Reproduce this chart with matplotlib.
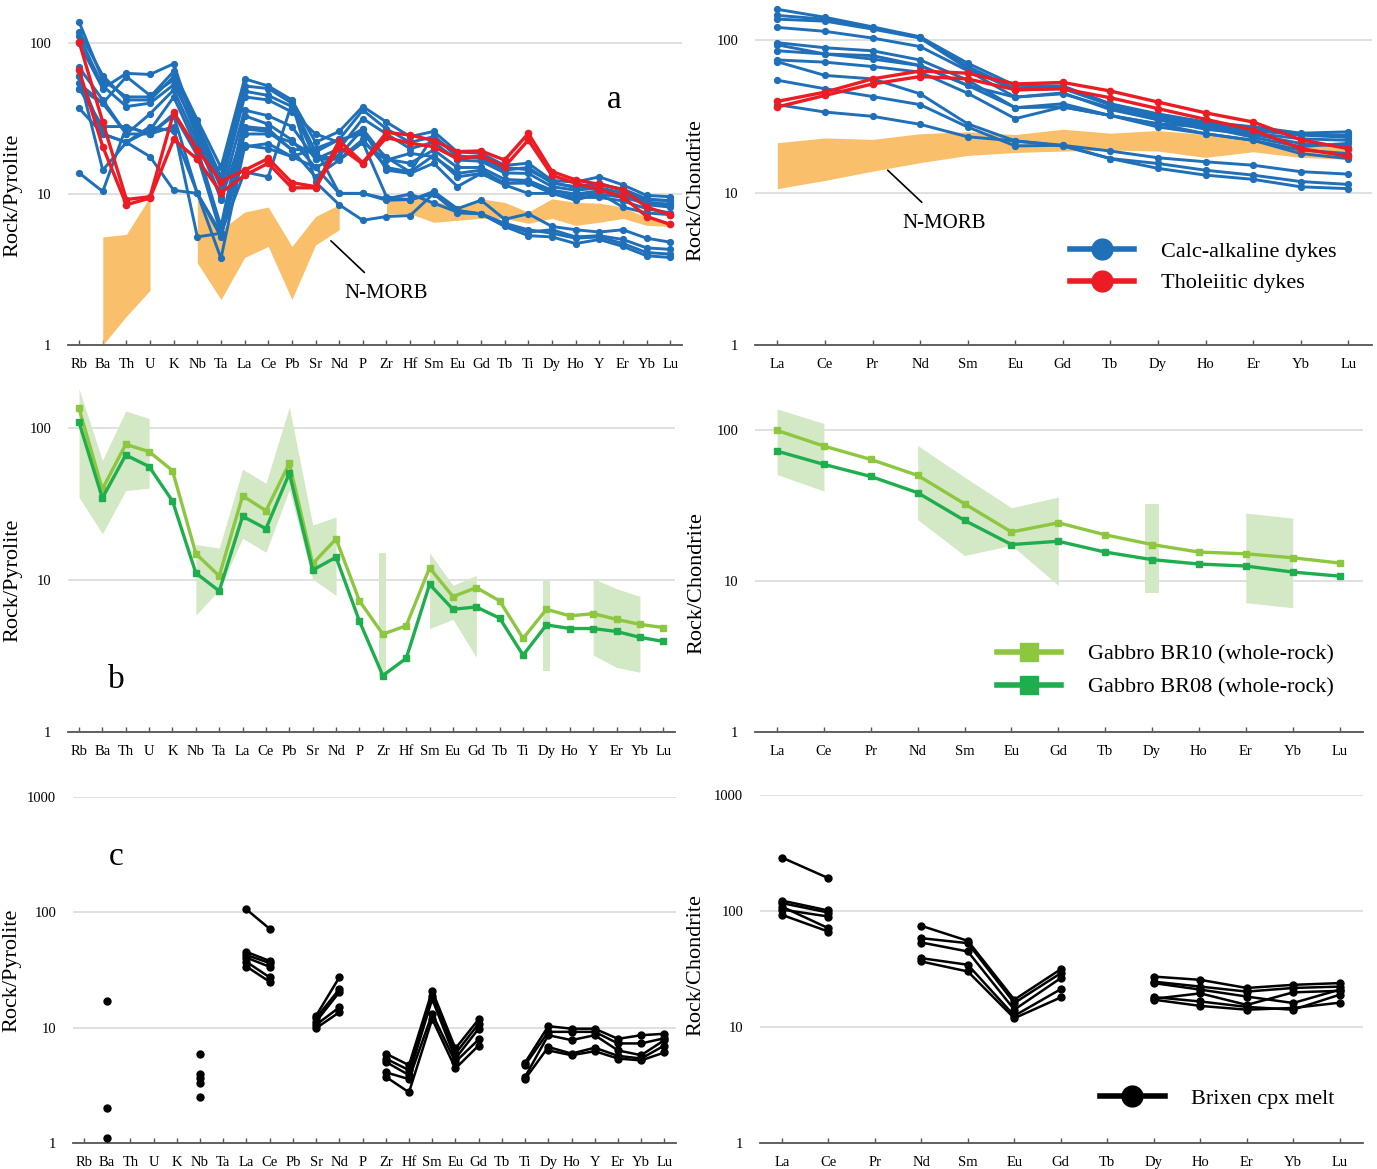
import numpy as np
import matplotlib
matplotlib.use("Agg")
import matplotlib.pyplot as plt
from matplotlib.lines import Line2D
from matplotlib.ticker import FixedLocator, FixedFormatter, NullLocator

plt.rcParams['font.family'] = ['Liberation Serif', 'DejaVu Serif']

spider_elements = ['Rb', 'Ba', 'Th', 'U', 'K', 'Nb', 'Ta', 'La', 'Ce', 'Pb', 'Sr', 'Nd', 'P',
                   'Zr', 'Hf', 'Sm', 'Eu', 'Gd', 'Tb', 'Ti', 'Dy', 'Ho', 'Y', 'Er', 'Yb', 'Lu']
ree_elements = ['La', 'Ce', 'Pr', 'Nd', 'Sm', 'Eu', 'Gd', 'Tb', 'Dy', 'Ho', 'Er', 'Yb', 'Lu']

# --- (a) dykes, normalised to pyrolite ---
calc_alkaline_spider = [
    [138, 57, 44, 44, 65, 31, 15, 58, 52, 42, 22, 26, 38, 30, 24, 26, 19, 18.6, 15.5, 16, 12.3, 12, 13, 11.5, 9.8, 9.6],
    [119, 61, 42, 42, 60, 29, 13, 52, 50, 40, 19, 23, 36, 27, 22, 24, 18, 17.2, 14.4, 15, 11.8, 11.2, 11.8, 10.6, 9.1, 9.1],
    [111, 52, 38, 40, 53, 27, 12, 48, 45, 38, 17, 20, 31.6, 25, 20, 22, 16.8, 16.5, 13.8, 13.7, 11.2, 10.6, 11, 10.2, 8.8, 8.5],
    [100, 50, 63, 62, 73, 25, 11, 44, 42, 35, 25, 22, 27, 17, 16, 19.6, 15, 15, 12.5, 12.3, 10.6, 10, 10.5, 9.8, 8.5, 8.2],
    [69, 42, 25, 34, 49, 22, 9.6, 36, 33, 28, 17, 17, 22, 16.8, 18.6, 17.7, 13.7, 14.4, 11.8, 11.8, 10.1, 9.1, 10.1, 8.2, 7.5, 7.3],
    [61, 25, 22, 26.5, 44, 20, 6.1, 33, 29, 22.8, 15, 18, 27, 14.4, 13.7, 16, 11.2, 13.7, 11.5, 10.1, 10.1, 9.5, 9.5, 9.0, 8.0, 7.5],
    [54, 40, 60, 45, 57, 24, 9.2, 27, 26, 19.6, 20, 23, 25, 17.5, 14, 24.5, 17.5, 17.8, 15, 14.5, 12, 11, 11.5, 10.8, 9.3, 9.0],
    [50, 28, 28, 25, 34, 18, 5.5, 28, 27, 19.6, 13, 16.8, 22, 9.6, 9.1, 10.4, 8.0, 9.1, 6.8, 7.4, 6.1, 5.8, 5.6, 5.8, 5.1, 4.8],
    [37, 25, 22, 28, 26, 10.1, 5.5, 14, 13, 40, 12, 8.5, 6.7, 7.1, 7.2, 10.1, 7.8, 7.4, 6.1, 5.3, 5.2, 4.7, 5.0, 4.5, 3.9, 3.8],
    [13.8, 10.4, 28, 25, 33, 10.1, 3.75, 20.6, 21.6, 17.7, 20, 10.1, 10.1, 9.3, 10, 8.7, 7.6, 7.4, 6.4, 5.8, 5.5, 5.1, 5.2, 4.7, 4.1, 4.0],
    [61, 14.4, 22, 17.7, 10.6, 10.1, 5.2, 21, 20, 17.7, 15, 10.1, 10.1, 9.1, 9.2, 10, 7.5, 7.4, 6.2, 5.6, 5.8, 5.2, 5.3, 5.0, 4.4, 4.3],
    [50, 40, 25, 25, 28, 5.2, 5.5, 25, 25, 22, 18, 17, 23, 15, 14, 18, 13, 13.7, 11.8, 12, 10.5, 9.9, 10, 9.5, 8.7, 8.6],
]
tholeiitic_spider = [
    [102, 30, 9.2, 9.6, 34.7, 19.6, 12.1, 14.4, 17.2, 11.9, 11.2, 22.6, 16.1, 25.6, 24.6, 22.6, 19.1, 19.3, 16.8, 25.2, 14.1, 12.4, 11.6, 10.7, 8.2, 7.3],
    [66, 20.6, 8.5, 9.4, 23, 17, 10.2, 13.3, 16, 11, 11, 20.6, 15.8, 23.7, 21.7, 20.6, 17.2, 17.8, 15.2, 22.8, 13.3, 11.8, 10.7, 9.6, 7.1, 6.3],
]
morb_spider_top = [None, 5.2, 5.4, 9.6, None, 9.1, 5.8, 7.6, 8.2, 4.5, 7.1, 8.5, None,
                   9.6, 10.1, 9.0, 8.2, 9.3, 8.8, 7.6, 9.3, 8.8, 8.7, 8.2, 7.0, 6.5]
morb_spider_bottom = [None, 1.0, 1.55, 2.3, None, 3.5, 2.0, 3.8, 4.5, 2.0, 4.6, 5.8, None,
                      7.4, 7.4, 6.5, 6.7, 6.9, 6.9, 6.4, 6.9, 6.2, 6.5, 6.9, 6.2, 6.1]

calc_alkaline_ree = [
    [159, 141, 122, 105, 70.5, 50.4, 50, 38.2, 32.8, 29, 27, 24.5, 25],
    [145, 137, 120, 104, 67, 48, 49, 38, 32, 28, 26, 24, 23.8],
    [137, 133, 118, 103, 65, 47, 48, 37.5, 31, 27.5, 25.5, 23.8, 23],
    [121, 114, 103, 90.6, 63, 42.2, 44.4, 36, 30, 27, 24.5, 22.5, 22],
    [96, 89, 85, 74, 54.5, 36, 38.2, 32, 28.2, 26.9, 23, 20, 21],
    [93, 81, 79, 68, 50.4, 42.2, 45, 35, 30, 26, 24, 21, 20],
    [85, 81, 75, 68, 50.4, 36, 36.4, 32, 28.2, 24.3, 22, 19, 18],
    [74, 71.6, 67, 61.6, 44.8, 30.5, 36.4, 32, 26.9, 24.3, 22, 18, 16.7],
    [72, 58.6, 55.6, 44.4, 28.2, 21.8, 20.4, 18.7, 16.9, 15.9, 15.1, 13.7, 13.2],
    [54.5, 47.9, 42.6, 37.7, 26.9, 20.2, 20.4, 16.7, 15.5, 14, 13, 11.8, 11.3],
    [37.7, 33.7, 31.6, 28, 23.2, 21.8, 20.2, 16.7, 14.4, 13, 12.2, 10.9, 10.6],
]
tholeiitic_ree = [
    [39.6, 45.5, 55.6, 62.6, 60.6, 51.5, 52.7, 46.3, 39.2, 33.3, 29, 22.2, 19.4],
    [36.4, 43.3, 51.5, 57.6, 55.6, 47.2, 47.9, 41.8, 35.5, 30.2, 25.8, 19.4, 17.3],
]
morb_ree_top = [21.2, 22.8, 22.3, 24.3, 25, 24, 26, 24.5, 25.5, 24, 22, 21, 20.5]
morb_ree_bottom = [10.6, 12, 13.8, 15.7, 17.5, 18.3, 18.7, 19, 18.7, 17, 18.5, 17, 16.5]

# --- (b) gabbro whole-rock ---
br10_spider = [134, 39.5, 77.8, 69.7, 52.3, 14.9, 10.6, 35.7, 28.5, 58.4, 12.8, 18.6, 7.27,
               4.4, 4.99, 12.0, 7.76, 8.9, 7.27, 4.12, 6.41, 5.8, 6.0, 5.5, 5.1, 4.86]
br08_spider = [109, 34.5, 66.2, 55.6, 33, 11.1, 8.45, 26.2, 21.7, 50.2, 11.6, 14.1, 5.35,
               2.35, 3.05, 9.35, 6.41, 6.64, 5.6, 3.2, 5.06, 4.79, 4.79, 4.58, 4.19, 3.94]
range_spider_top = [181, 61, 129, 115, None, 17.1, 16.2, 53.4, 43.2, 137, 23, 25.9, None,
                    15.1, None, 15.1, 9.2, 10.7, None, None, 9.8, None, 10.2, 8.75, 7.8, None]
range_spider_bottom = [35, 20.1, 38.7, 40.1, None, 5.86, 8.6, 18.8, 15.2, 39.1, 10.1, 7.9, None,
                       2.35, None, 4.79, 5.5, 3.1, None, None, 2.5, None, 3.2, 2.66, 2.47, None]
br10_ree = [100, 78.7, 64.2, 50.3, 32.6, 21.2, 24.4, 20.3, 17.5, 15.6, 15.2, 14.3, 13.2]
br08_ree = [72.9, 59.5, 49.5, 38.6, 25.3, 17.5, 18.4, 15.6, 13.9, 13.0, 12.6, 11.5, 10.8]
range_ree_top = [139, 111, None, 79.4, 49, 30.7, 36.1, None, 32.6, None, 28.3, 26.2, None]
range_ree_bottom = [51, 39.6, None, 25.6, 14.8, 17.3, 9.4, None, 8.3, None, 7.2, 6.67, None]

# --- (c) melts in equilibrium with Brixen clinopyroxene ---
cpx_melt_spider = [
    [None, 16.9, None, None, None, 5.96, None, 106, 72, None, 12.7, 27.3, None,
     5.96, 4.73, 20.9, 6.6, 11.8, None, 4.98, 10.3, 9.8, 9.8, 8.0, 8.6, 8.85],
    [None, 2.03, None, None, None, 4.0, None, 45.4, 37.9, None, 12.1, 21.6, None,
     5.4, 4.28, 18.9, 5.96, 10.8, None, 4.73, 9.2, 9.2, 9.2, 7.3, 7.3, 8.1],
    [None, 1.1, None, None, None, 3.63, None, 42.7, 36.3, None, 11.3, 20.3, None,
     5.05, 3.88, 17.7, 5.4, 9.8, None, 3.75, 8.6, 7.8, 8.6, 6.35, 5.77, 7.8],
    [None, None, None, None, None, 3.29, None, 40.5, 33.7, None, 10.6, 15.0, None,
     4.1, 3.58, 13.2, 5.05, 7.9, None, 3.58, 6.8, 5.96, 6.7, 5.7, 5.4, 7.0],
    [None, None, None, None, None, 2.52, None, 37.2, 27.3, None, 9.9, 13.6, None,
     3.75, 2.75, 11.9, 4.43, 7.0, None, None, 6.35, 5.77, 6.25, 5.4, 5.2, 6.1],
    [None, None, None, None, None, None, None, 33.9, 25.0, None, None, None, None,
     None, None, None, None, None, None, None, None, None, None, None, None, None],
]
cpx_melt_ree = [
    [289, 192, None, 74.5, 55.3, 17.2, 31.5, None, 27.2, 25.5, 21.7, 23.1, 23.9],
    [123, 101, None, 58.3, 52.8, 16.1, 29.1, None, 24.6, 22.3, 20.2, 21.7, 22.3],
    [117, 97, None, 53.5, 44.8, 14.1, 26.4, None, 23.9, 21, 18.3, 16.1, 21],
    [109, 71.1, None, 39.2, 34.4, 12.5, 21.2, None, 18.1, 16.6, 14.9, 14.1, 19],
    [92.7, 66.5, None, 36.7, 30.1, 11.9, 18.0, None, 17.2, 15.2, 14.1, 14.6, 16.2],
    [103, 89.6, None, None, None, None, None, None, 17.5, 19.5, 15.5, 19.9, 20.5],
]

BLUE = '#1f6fb9'
RED = '#ec1c24'
ORANGE = '#f9bf6b'
LIGHT_GREEN = '#8dc63f'
DARK_GREEN = '#1eae4e'
RANGE_GREEN = '#d3e8c5'

W, H = 1377, 1169
fig = plt.figure(figsize=(W / 100, H / 100), dpi=100)


def panel(left, right, top, bottom):
    return fig.add_axes([left / W, 1 - bottom / H, (right - left) / W, (bottom - top) / H])


def arr(values):
    return np.array([np.nan if v is None else v for v in values], dtype=float)


def style(ax, labels, ymax, ylabel, label_xy, xright):
    ax.set_yscale('log')
    ax.set_ylim(1, ymax)
    ax.set_xlim(-0.47, xright)
    for side in ('top', 'left', 'right'):
        ax.spines[side].set_visible(False)
    ax.spines['bottom'].set_color('#555555')
    ax.spines['bottom'].set_linewidth(1.3)
    ax.set_xticks(range(len(labels)))
    ax.set_xticklabels(labels, fontsize=10.5)
    ax.tick_params(axis='x', direction='in', length=3.5, width=1, color='#555555', pad=9.5)
    decades = [1, 10, 100, 1000][:int(np.log10(ymax)) + 1]
    ax.yaxis.set_major_locator(FixedLocator(decades))
    ax.yaxis.set_major_formatter(FixedFormatter([str(d) for d in decades]))
    ax.yaxis.set_minor_locator(NullLocator())
    ax.tick_params(axis='y', length=0, pad=12, labelsize=10.5)
    ax.yaxis.grid(True, color='#dddddd', lw=1.3)
    ax.set_axisbelow(True)
    ax.set_ylabel(ylabel, fontsize=16)
    ax.yaxis.set_label_coords(*label_xy)


def shade(ax, top, bottom, color, bar_width=0.3):
    # contiguous runs become polygons, isolated elements become thin bars
    top, bottom = arr(top), arr(bottom)
    x = np.arange(len(top))
    ok = ~np.isnan(top)
    i = 0
    while i < len(top):
        if not ok[i]:
            i += 1
            continue
        j = i
        while j + 1 < len(top) and ok[j + 1]:
            j += 1
        if j == i:
            ax.fill_between([x[i] - bar_width / 2, x[i] + bar_width / 2],
                            [bottom[i]] * 2, [top[i]] * 2, color=color, lw=0, zorder=1)
        else:
            ax.fill_between(x[i:j + 1], bottom[i:j + 1], top[i:j + 1], color=color, lw=0, zorder=1)
        i = j + 1


def lines(ax, rows, color, lw, ms, marker='o', z=3):
    for row in rows:
        y = arr(row)
        ax.plot(np.arange(len(y)), y, color=color, lw=lw, marker=marker, ms=ms,
                solid_joinstyle='round', zorder=z)


def legend(ax, handles, labels, anchor, spacing):
    ax.legend(handles, labels, loc='upper left', bbox_to_anchor=anchor, frameon=False,
              fontsize=16, handlelength=2.9, handletextpad=1.2, labelspacing=spacing,
              borderpad=0, borderaxespad=0)


# (a) left
ax = panel(68, 682, 0, 345)
style(ax, spider_elements, 193, 'Rock/Pyrolite', (-0.075, 0.435), 25.5)
shade(ax, morb_spider_top, morb_spider_bottom, ORANGE)
lines(ax, calc_alkaline_spider, BLUE, 2.1, 4.2)
lines(ax, tholeiitic_spider, RED, 2.4, 4.5, z=4)
ax.annotate('N-MORB', xy=(10.65, 4.9), xytext=(13.0, 2.2), fontsize=15,
            ha='center', va='center', arrowprops=dict(arrowstyle='-', color='black', lw=1.2,
                                                      shrinkA=9, shrinkB=0))
ax.text(0.89, 0.71, 'a', transform=ax.transAxes, fontsize=24, ha='center', va='center')

# (a) right
ax = panel(755, 1372, 0, 345)
style(ax, ree_elements, 183, 'Rock/Chondrite', (-0.08, 0.45), 12.5)
shade(ax, morb_ree_top, morb_ree_bottom, ORANGE)
lines(ax, calc_alkaline_ree, BLUE, 2.1, 4.2)
lines(ax, tholeiitic_ree, RED, 2.4, 4.5, z=4)
ax.annotate('N-MORB', xy=(2.32, 14.0), xytext=(3.5, 6.3), fontsize=15,
            ha='center', va='center', arrowprops=dict(arrowstyle='-', color='black', lw=1.2,
                                                      shrinkA=9, shrinkB=0))
legend(ax, [Line2D([], [], color=BLUE, lw=4, marker='o', ms=15),
            Line2D([], [], color=RED, lw=4, marker='o', ms=15)],
       ['Calc-alkaline dykes', 'Tholeiitic dykes'], (0.51, 0.301), 0.5)

# (b) left
ax = panel(68, 675, 382, 732)
style(ax, spider_elements, 200, 'Rock/Pyrolite', (-0.075, 0.434), 25.5)
shade(ax, range_spider_top, range_spider_bottom, RANGE_GREEN)
lines(ax, [br10_spider], LIGHT_GREEN, 2.4, 5, marker='s')
lines(ax, [br08_spider], DARK_GREEN, 2.4, 5, marker='s')
ax.text(0.08, 0.149, 'b', transform=ax.transAxes, fontsize=24, ha='center', va='center')

# (b) right
ax = panel(755, 1363, 385, 732)
style(ax, ree_elements, 200, 'Rock/Chondrite', (-0.08, 0.43), 12.5)
shade(ax, range_ree_top, range_ree_bottom, RANGE_GREEN)
lines(ax, [br10_ree], LIGHT_GREEN, 2.4, 5, marker='s')
lines(ax, [br08_ree], DARK_GREEN, 2.4, 5, marker='s')
legend(ax, [Line2D([], [], color=LIGHT_GREEN, lw=4, marker='s', ms=13),
            Line2D([], [], color=DARK_GREEN, lw=4, marker='s', ms=13)],
       ['Gabbro BR10 (whole-rock)', 'Gabbro BR08 (whole-rock)'], (0.398, 0.254), 0.58)

# (c) left
ax = panel(73, 676, 797, 1143)
style(ax, spider_elements, 1000, 'Rock/Pyrolite', (-0.085, 0.5), 25.5)
lines(ax, cpx_melt_spider, 'black', 1.8, 5)
ax.text(0.071, 0.827, 'c', transform=ax.transAxes, fontsize=24, ha='center', va='center')

# (c) right
ax = panel(760, 1363, 795, 1143)
style(ax, ree_elements, 1000, 'Rock/Chondrite', (-0.09, 0.51), 12.5)
lines(ax, cpx_melt_ree, 'black', 1.8, 5)
legend(ax, [Line2D([], [], color='black', lw=4, marker='o', ms=15)],
       ['Brixen cpx melt'], (0.564, 0.158), 0.5)

fig.savefig('out.png', dpi=100)
